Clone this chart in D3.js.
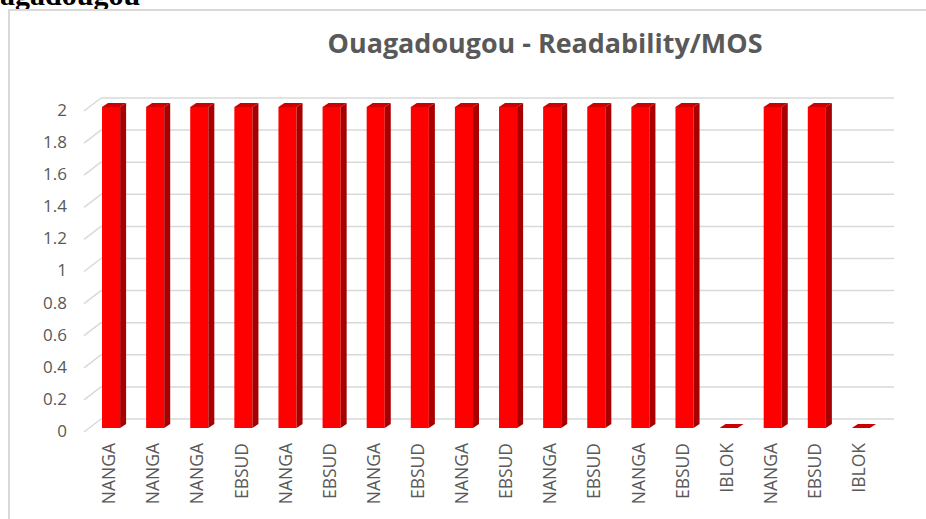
<!DOCTYPE html>
<html><head><meta charset="utf-8">
<script src="https://cdn.jsdelivr.net/npm/d3@7"></script>
<style>html,body{margin:0;padding:0;background:#fff;overflow:hidden}</style>
</head><body>
<script>
const categories = ["NANGA","NANGA","NANGA","EBSUD","NANGA","EBSUD","NANGA","EBSUD","NANGA","EBSUD","NANGA","EBSUD","NANGA","EBSUD","IBLOK","NANGA","EBSUD","IBLOK"];
const values = [2,2,2,2,2,2,2,2,2,2,2,2,2,2,0,2,2,0];
const yTicks = [0,0.2,0.4,0.6,0.8,1,1.2,1.4,1.6,1.8,2];
const yTickLabels = ["0","0.2","0.4","0.6","0.8","1","1.2","1.4","1.6","1.8","2"];
const title = "Ouagadougou - Readability/MOS";
const heading = "Ouagadougou";

const W = 926, H = 519;
const svg = d3.select("body").append("svg").attr("width", W).attr("height", H);

// page heading (cropped at top, as in the reference)
svg.append("text").attr("x", -40).attr("y", 5)
  .attr("font-family", "Liberation Serif").attr("font-weight", "bold")
  .attr("font-size", 30).attr("fill", "#000").text(heading);

// chart border
svg.append("rect").attr("x", 9).attr("y", 10).attr("width", W + 20).attr("height", H + 20)
  .attr("fill", "none").attr("stroke", "#d9d9d9").attr("stroke-width", 2);

// scales
const x = d3.scaleBand().domain(d3.range(categories.length)).range([89, 883])
  .paddingInner(0.59).paddingOuter(0.295);
const yBack = d3.scaleLinear().domain([0, 2]).range([419, 98]);
const depthX = 17, depthY = 13;
const barDx = 6, barDy = 4;
const barOff = 9;
const backLeft = 101, backRight = 894;

// gridlines
const grid = svg.append("g");
yTicks.forEach(t => {
  const yb = yBack(t);
  grid.append("line").attr("x1", backLeft).attr("x2", backRight).attr("y1", yb).attr("y2", yb)
    .attr("stroke", "#d9d9d9").attr("stroke-width", 1.5);
  grid.append("line").attr("x1", backLeft - depthX).attr("y1", yb + depthY)
    .attr("x2", backLeft).attr("y2", yb)
    .attr("stroke", "#d9d9d9").attr("stroke-width", 1.5);
});

// y tick labels
svg.append("g").selectAll("text").data(yTicks).join("text")
  .attr("x", 67).attr("y", d => yBack(d) + depthY - 1)
  .attr("dy", "0.35em").attr("text-anchor", "end")
  .attr("font-family", "Open Sans").attr("font-size", 17).attr("fill", "#595959")
  .text((d, i) => yTickLabels[i]);

// bars
const bars = svg.append("g");
values.forEach((v, i) => {
  const x0 = x(i), bw = x.bandwidth();
  const yb = yBack(0) + barOff, yt = yBack(v) + barOff;
  if (v > 0) {
    bars.append("rect").attr("x", x0).attr("y", yt).attr("width", bw).attr("height", yb - yt)
      .attr("fill", "#ff0000");
    bars.append("path").attr("d", `M${x0+bw},${yt} L${x0+bw+barDx},${yt-barDy} L${x0+bw+barDx},${yb-barDy} L${x0+bw},${yb} Z`)
      .attr("fill", "#a80000");
  }
  bars.append("path").attr("d", `M${x0},${yt} L${x0+bw},${yt} L${x0+bw+barDx},${yt-barDy} L${x0+barDx},${yt-barDy} Z`)
    .attr("fill", "#cc0000");
});

// category labels
svg.append("g").selectAll("text").data(categories).join("text")
  .attr("transform", (d, i) => `translate(${x(i) + x.bandwidth()/2 - 2},443) rotate(-90)`)
  .attr("dy", "0.35em").attr("text-anchor", "end")
  .attr("font-family", "Open Sans").attr("font-size", 17.5).attr("fill", "#595959")
  .text(d => d);

// title
const tt = svg.append("text").attr("x", 545).attr("y", 53).attr("text-anchor", "middle")
  .attr("font-family", "Open Sans").attr("font-weight", "bold").attr("font-size", 24)
  .attr("fill", "#595959").text(title);
const len = tt.node().getComputedTextLength();
tt.attr("font-size", 24 * 435 / len);
</script>
</body></html>
